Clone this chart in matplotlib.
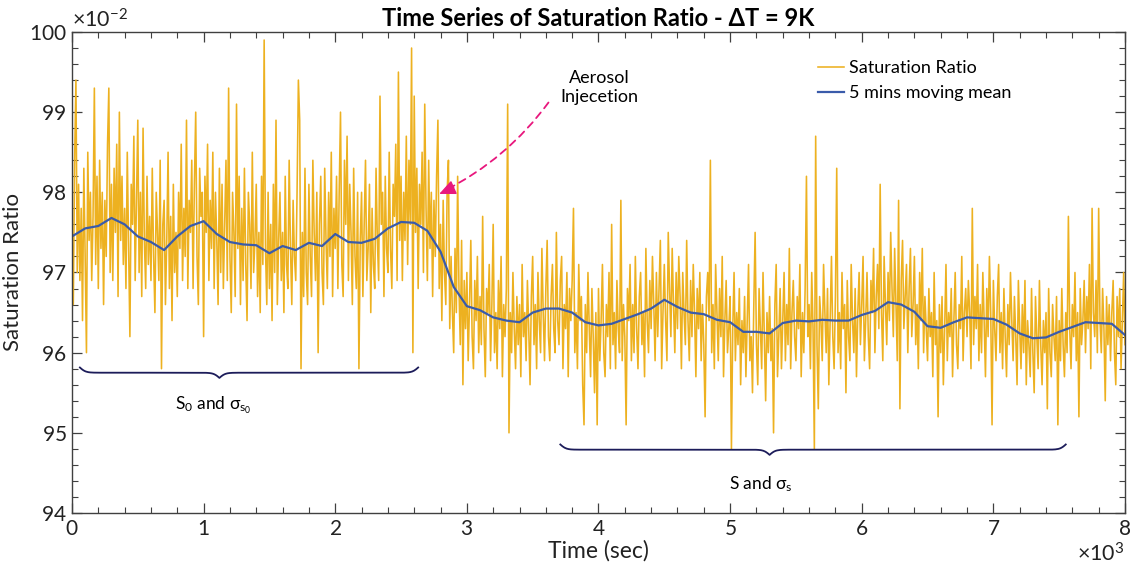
"""Saturation ratio time series before / after aerosol injection."""
import matplotlib
matplotlib.use("Agg")
import matplotlib.pyplot as plt
import numpy as np

plt.rcParams["font.family"] = ["Lato", "DejaVu Sans"]
plt.rcParams["mathtext.fontset"] = "custom"
plt.rcParams["mathtext.rm"] = "Lato"
plt.rcParams["mathtext.it"] = "Lato:italic"
plt.rcParams["mathtext.bf"] = "Lato:bold"

# raw saturation ratio (x10^-2), one value every 10 s, 0..8000 s
sat_pct = [
    97.5, 96.6, 98.4, 99.4, 97.0, 98.1, 96.9, 97.8, 96.4, 98.3,
    97.2, 96.0, 98.5, 97.4, 98.0, 96.9, 97.7, 99.3, 97.1, 98.2,
    96.8, 98.4, 97.3, 98.0, 96.6, 97.9, 97.2, 98.6, 99.3, 97.0,
    98.1, 96.9, 98.3, 97.5, 98.6, 96.7, 99.0, 97.4, 98.2, 97.1,
    97.8, 96.8, 98.5, 97.3, 96.2, 98.1, 97.6, 98.7, 96.9, 97.9,
    98.9, 97.0, 98.0, 96.7, 98.8, 97.4, 96.8, 98.2, 97.1, 97.7,
    96.9, 98.3, 97.2, 96.5, 98.0, 97.5, 96.9, 98.4, 95.8, 97.6,
    97.9, 96.6, 97.4, 98.5, 96.8, 97.7, 96.4, 98.1, 97.0, 97.5,
    96.7, 98.0, 97.3, 98.6, 96.9, 97.8, 97.2, 98.9, 96.8, 97.9,
    97.5, 98.4, 96.8, 98.1, 99.0, 97.2, 96.6, 98.3, 97.7, 98.0,
    96.2, 98.2, 97.5, 98.6, 96.9, 97.9, 97.3, 98.5, 96.8, 98.0,
    97.4, 96.6, 98.3, 97.0, 98.1, 96.8, 97.6, 98.4, 96.9, 99.3,
    97.2, 96.5, 98.0, 97.5, 96.7, 99.1, 97.3, 98.2, 96.6, 97.8,
    96.9, 98.3, 97.1, 96.4, 98.0, 97.6, 96.8, 98.5, 97.0, 97.4,
    98.1, 96.7, 97.5, 96.5, 98.2, 97.1, 99.9, 97.3, 96.6, 98.0,
    96.8, 97.6, 96.4, 98.1, 97.0, 98.9, 96.6, 97.4, 98.0, 96.9,
    97.5, 96.5, 98.2, 97.1, 96.8, 98.4, 97.3, 96.6, 97.9, 97.2,
    96.9, 98.0, 99.4, 98.9, 95.8, 97.5, 96.7, 98.3, 97.0, 96.6,
    98.1, 97.2, 96.7, 98.4, 97.5, 96.9, 98.0, 96.0, 97.6, 98.2,
    97.0, 96.6, 98.3, 97.4, 96.8, 98.0, 97.2, 98.5, 96.7, 97.8,
    97.3, 98.2, 96.8, 98.0, 99.0, 97.1, 96.7, 98.4, 97.6, 98.7,
    96.9, 98.1, 97.5, 96.6, 98.3, 97.2, 96.8, 98.0, 95.8, 97.4,
    98.0, 96.7, 97.6, 98.4, 96.9, 97.3, 98.1, 96.5, 97.8, 97.1,
    96.8, 98.3, 97.4, 96.9, 99.2, 97.6, 98.0, 96.7, 98.2, 97.3,
    97.0, 98.5, 97.3, 96.8, 98.1, 97.7, 98.6, 96.9, 99.5, 97.4,
    98.2, 96.9, 98.0, 97.4, 98.7, 97.1, 98.4, 97.6, 99.8, 96.0,
    99.2, 97.5, 98.3, 96.8, 98.1, 97.6, 98.5, 97.0, 99.1, 97.8,
    96.9, 98.4, 97.3, 98.0, 96.7, 97.9, 97.2, 98.2, 98.9, 96.8,
    97.6, 96.4, 97.9, 97.0, 96.6, 98.0, 98.4, 96.3, 97.2, 96.5,
    96.0, 97.3, 96.5, 98.2, 96.8, 96.1, 97.4, 95.6, 96.9, 96.3,
    97.0, 95.9, 96.6, 97.4, 96.2, 95.8, 96.9, 96.4, 97.2, 96.0,
    96.7, 96.1, 97.7, 96.3, 95.7, 96.8, 96.5, 97.1, 95.9, 96.6,
    97.6, 96.0, 96.5, 95.8, 96.9, 96.3, 97.2, 95.7, 96.6, 96.2,
    96.8, 99.1, 95.0, 96.5, 96.0, 97.0, 96.3, 95.8, 96.7, 96.1,
    96.6, 95.7, 97.1, 96.2, 96.5, 95.9, 96.9, 96.3, 95.6, 96.7,
    97.2, 96.1, 96.6, 95.8, 97.0, 96.4, 96.0, 97.3, 96.5, 95.9,
    96.8, 97.4, 96.2, 95.9, 96.7, 97.1, 96.3, 96.0, 97.5, 96.4,
    96.1, 96.9, 97.2, 95.8, 96.6, 96.3, 97.0, 95.7, 96.8, 96.4,
    96.9, 97.8, 96.0, 96.5, 95.8, 97.1, 96.4, 96.7, 95.6, 95.1,
    96.6, 96.0, 97.0, 96.3, 95.7, 96.8, 96.2, 95.5, 96.5, 95.1,
    96.8, 95.9, 96.4, 97.1, 96.0, 95.7, 96.6, 96.2, 97.0, 95.8,
    97.6, 96.1, 96.5, 95.8, 96.9, 96.3, 96.0, 97.9, 95.9, 96.6,
    96.2, 95.1, 96.8, 96.4, 97.1, 95.9, 96.6, 96.0, 97.2, 96.3,
    95.8, 96.7, 97.0, 96.1, 96.5, 95.7, 97.3, 96.4, 96.0, 96.9,
    96.3, 97.2, 96.6, 95.9, 97.0, 96.2, 96.8, 97.4, 95.8, 96.5,
    97.1, 96.4, 95.9, 97.5, 96.8, 96.2, 97.3, 96.6, 96.0, 97.0,
    96.3, 97.2, 96.7, 95.8, 97.0, 96.5, 96.1, 97.4, 96.4, 95.9,
    96.9, 96.2, 97.1, 96.5, 95.7, 96.8, 96.3, 97.0, 95.9, 96.6,
    96.1, 95.2, 96.7, 97.0, 96.4, 98.4, 96.0, 96.6, 95.8, 97.1,
    96.5, 95.9, 96.8, 96.2, 97.2, 95.7, 96.4, 96.9, 96.0, 96.3,
    96.7, 94.8, 96.3, 97.0, 95.9, 96.5, 96.1, 96.8, 95.6, 96.4,
    96.0, 96.7, 95.7, 96.4, 97.1, 95.9, 96.2, 95.5, 96.6, 97.5,
    96.1, 95.6, 96.8, 96.3, 95.8, 97.0, 96.2, 95.4, 96.5, 96.0,
    96.7, 95.9, 96.3, 95.0, 96.6, 97.1, 95.7, 96.2, 96.8, 95.8,
    96.4, 97.0, 95.9, 96.6, 96.1, 97.3, 95.8, 96.5, 96.9, 96.2,
    95.9, 96.7, 96.3, 97.1, 95.7, 96.5, 96.0, 96.8, 98.2, 96.2,
    96.6, 95.8, 97.0, 96.3, 94.8, 98.7, 96.1, 95.3, 96.7, 96.4,
    95.9, 97.1, 96.5, 96.0, 96.8, 95.6, 96.4, 97.2, 96.2, 95.8,
    96.7, 98.3, 96.0, 96.5, 95.8, 97.0, 96.3, 96.6, 95.5, 96.9,
    96.2, 95.9, 97.1, 96.4, 96.0, 96.8, 95.7, 96.5, 97.0, 96.1,
    96.6, 97.2, 95.9, 96.4, 97.0, 96.2, 95.8, 96.9, 96.5, 97.3,
    96.0, 96.7, 97.1, 96.3, 98.1, 96.5, 95.9, 97.2, 96.6, 96.1,
    97.0, 96.4, 97.5, 96.8, 96.2, 97.3, 96.6, 95.9, 97.9, 95.3,
    96.9, 97.4, 96.3, 96.7, 97.1, 96.0, 96.8, 97.3, 96.2, 96.6,
    97.2, 96.1, 96.6, 95.8, 97.0, 96.4, 97.3, 96.0, 96.7, 96.3,
    95.9, 96.8, 96.2, 96.5, 95.7, 97.0, 96.1, 96.4, 95.2, 96.6,
    96.0, 96.7, 95.6, 96.3, 97.1, 95.9, 96.5, 96.2, 96.8, 95.7,
    96.4, 97.0, 96.1, 95.8, 96.6, 96.3, 97.2, 95.9, 96.5, 96.8,
    96.2, 96.9, 96.5, 95.8, 97.8, 96.1, 96.7, 96.3, 97.1, 95.9,
    96.6, 96.0, 97.0, 96.4, 95.7, 96.8, 96.2, 97.2, 96.5, 95.1,
    96.9, 96.3, 95.9, 96.7, 97.1, 96.0, 96.5, 95.8, 96.8, 96.2,
    95.7, 96.6, 96.1, 97.0, 96.4, 95.9, 96.7, 96.2, 95.6, 96.9,
    96.3, 95.8, 96.6, 96.0, 96.9, 95.6, 96.4, 96.1, 95.7, 96.8,
    96.0, 95.5, 96.7, 96.2, 95.8, 96.9, 96.1, 95.6, 96.4, 96.0,
    96.5, 95.3, 96.8, 96.0, 95.7, 96.6, 96.2, 95.9, 96.7, 95.1,
    96.4, 95.9, 96.8, 96.1, 95.7, 96.5, 96.0, 97.7, 96.3, 95.8,
    96.6, 96.2, 97.0, 95.9, 96.5, 95.2, 96.8, 96.1, 96.4, 96.9,
    96.0, 96.7, 96.3, 97.1, 95.8, 97.8, 96.5, 96.2, 96.9, 96.0,
    97.8, 96.4, 96.0, 96.8, 96.3, 95.4, 96.7, 96.1, 96.6, 95.9,
    96.5, 96.9, 96.0, 95.6, 96.7, 96.2, 96.8, 95.8, 96.4, 97.0,
    96.1,
]

# 5 min moving mean (x10^-2), one value every 100 s
mean_pct = [
    97.45, 97.55, 97.58, 97.68, 97.60, 97.45, 97.38, 97.28, 97.45, 97.58,
    97.64, 97.48, 97.38, 97.35, 97.34, 97.24, 97.33, 97.28, 97.37, 97.33,
    97.48, 97.38, 97.37, 97.42, 97.55, 97.63, 97.62, 97.52, 97.26, 96.82,
    96.58, 96.53, 96.44, 96.40, 96.38, 96.50, 96.55, 96.55, 96.50, 96.38,
    96.34, 96.36, 96.42, 96.48, 96.55, 96.66, 96.57, 96.50, 96.48, 96.41,
    96.38, 96.26, 96.26, 96.24, 96.37, 96.40, 96.39, 96.41, 96.40, 96.40,
    96.47, 96.52, 96.63, 96.60, 96.51, 96.33, 96.31, 96.38, 96.44, 96.43,
    96.42, 96.35, 96.24, 96.18, 96.19, 96.26, 96.32, 96.38, 96.37, 96.36,
    96.22,
]

raw_step = 10     # s
mean_step = 100   # s

# braces: (start, peak, end) in s, level in x10^-2
brace_before = (60, 1120, 2630, 95.75)
brace_after = (3710, 5300, 7550, 94.79)

yellow = "#EDB120"
blue = "#3A5BAA"
navy = "#1C1C5A"
pink = "#E8177D"


def draw_brace(ax, x0, xc, x1, level, depth=0.0013, beta=0.045):
    # curly brace pointing down, tip at xc
    def half(xa, xb):
        xs = np.linspace(xa, xb, 200)
        ys = 1 / (1 + np.exp(-beta * (xs - xa))) + 1 / (1 + np.exp(-beta * (xs - xb)))
        return xs, ys
    xl, yl = half(x0, xc)
    xr, yr = half(xc, x1)
    yr = yr[::-1]
    xs = np.concatenate([xl, xr])
    ys = np.concatenate([yl, yr])
    ax.plot(xs, level / 100 - depth * (ys - 1), color=navy, lw=1.3, zorder=4)


t_raw = np.arange(len(sat_pct)) * raw_step
t_mean = np.arange(len(mean_pct)) * mean_step
sat = np.array(sat_pct) / 100
sat_mean = np.array(mean_pct) / 100

fig = plt.figure(figsize=(11.39, 5.69), dpi=100)
ax = fig.add_axes([0.0632, 0.0984, 0.9245, 0.8454])

ax.plot(t_raw, sat, color=yellow, lw=1.15, label="Saturation Ratio")
ax.plot(t_mean, sat_mean, color=blue, lw=1.6, label="5 mins moving mean")

ax.set_xlim(0, 8000)
ax.set_ylim(0.94, 1.00)
ax.set_xticks(np.arange(0, 8001, 1000))
ax.set_xticks(np.arange(0, 8001, 200), minor=True)
ax.set_yticks(np.arange(0.94, 1.0001, 0.01))
ax.set_yticks(np.arange(0.94, 1.0001, 0.002), minor=True)
ax.ticklabel_format(axis="y", style="sci", scilimits=(-2, -2), useMathText=True, useOffset=False)
ax.ticklabel_format(axis="x", style="sci", scilimits=(3, 3), useMathText=True, useOffset=False)
ax.tick_params(which="both", direction="in", top=True, right=True, color="#404040",
               labelsize=15, labelcolor="#222222")
ax.tick_params(which="major", length=7, width=0.9, pad=4)
ax.tick_params(which="minor", length=4, width=0.8)
ax.yaxis.get_offset_text().set_fontsize(15.5)
ax.xaxis.get_offset_text().set_fontsize(15.5)
for sp in ax.spines.values():
    sp.set_color("#404040")
    sp.set_linewidth(1.0)

ax.set_xlabel("Time (sec)", fontsize=16.5, labelpad=1, color="#222222")
ax.set_ylabel("Saturation Ratio", fontsize=16, labelpad=4, color="#222222")
ax.set_title("Time Series of Saturation Ratio - ΔT = 9K", fontsize=17, fontweight="bold", pad=4)

ax.legend(loc="upper left", bbox_to_anchor=(0.693, 0.975), frameon=False, fontsize=13,
          handlelength=1.45, handletextpad=0.25, labelspacing=0.5)

draw_brace(ax, *brace_before)
draw_brace(ax, *brace_after)
ax.text(1075, 0.9535, r"S$_{0}$ and σ$_{\mathrm{s}_{0}}$", ha="center", va="center", fontsize=12.5)
ax.text(5230, 0.9436, r"S and σ$_{\mathrm{s}}$", ha="center", va="center", fontsize=12.5)

# injection note: dashed curved line + solid head
ax.text(4010, 0.9931, "Aerosol\nInjecetion", ha="center", va="center", fontsize=13, linespacing=1.25)
ax.annotate("", xy=(2830, 0.9802), xytext=(3620, 0.9912),
            arrowprops=dict(arrowstyle="-", color=pink, lw=1.3, linestyle=(0, (4, 3)),
                            connectionstyle="arc3,rad=-0.12", shrinkA=0, shrinkB=0))
ax.annotate("", xy=(2790, 0.9798), xytext=(2900, 0.9806),
            arrowprops=dict(arrowstyle="-|>,head_length=1.0,head_width=0.45", color=pink, lw=1.0,
                            shrinkA=0, shrinkB=0))

fig.savefig("out.png", dpi=100)
